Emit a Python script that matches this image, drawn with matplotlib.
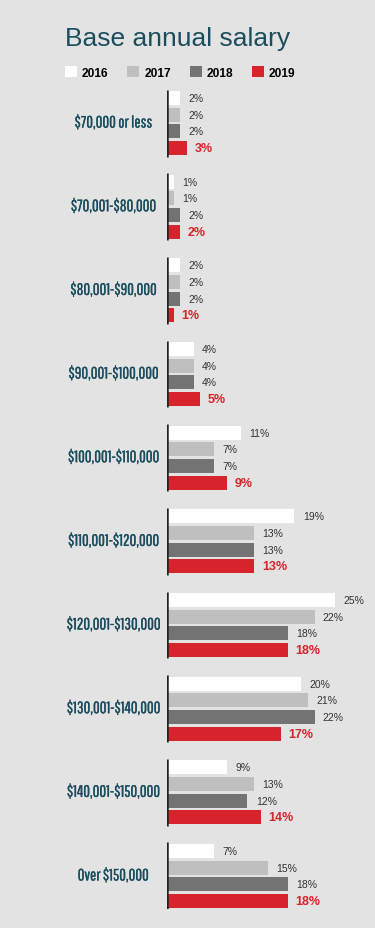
import matplotlib.pyplot as plt
import matplotlib.patheffects as pe
from matplotlib.patches import Patch
import numpy as np

plt.rcParams['text.parse_math'] = False

categories = ['$70,000 or less', '$70,001-$80,000', '$80,001-$90,000', '$90,001-$100,000',
              '$100,001-$110,000', '$110,001-$120,000', '$120,001-$130,000',
              '$130,001-$140,000', '$140,001-$150,000', 'Over $150,000']
years = ['2016', '2017', '2018', '2019']
v2016 = [2, 1, 2, 4, 11, 19, 25, 20, 9, 7]
v2017 = [2, 1, 2, 4, 7, 13, 22, 21, 13, 15]
v2018 = [2, 2, 2, 4, 7, 13, 18, 22, 12, 18]
v2019 = [3, 2, 1, 5, 9, 13, 18, 17, 14, 18]

series = [v2016, v2017, v2018, v2019]
colors = ['#ffffff', '#bfbfbf', '#737373', '#d7232b']
bg = '#e3e3e3'
teal = '#1b4d5e'
sans = ['Liberation Sans', 'DejaVu Sans']
narrow = ['Pathway Gothic One', 'Oswald', 'DejaVu Sans']

fig = plt.figure(figsize=(3.75, 9.29), dpi=100)
fig.patch.set_facecolor(bg)

ax = fig.add_axes([0.445, 0.020, 0.555, 0.8825])
ax.set_facecolor(bg)

for j, vals in enumerate(series):
    ys = np.arange(len(categories)) * 5 + j
    ax.barh(ys, vals, height=0.84, color=colors[j], edgecolor='none')
    for y, v in zip(ys, vals):
        if j == 3:
            ax.annotate(f'{v}%', (v, y), xytext=(5.5, 0), textcoords='offset points',
                        va='center', ha='left', fontsize=9, fontweight='bold',
                        color='#d7232b', family=sans)
        else:
            ax.annotate(f'{v}%', (v, y), xytext=(6, 0), textcoords='offset points',
                        va='center', ha='left', fontsize=7.5, color='#333333',
                        family=sans)

# thicken the narrow label font just a touch
bold_fx = [pe.withStroke(linewidth=0.2, foreground=teal)]
for g, cat in enumerate(categories):
    ax.vlines(0, g * 5 - 0.5, g * 5 + 3.5, color='#222222', lw=1.8)
    ax.text(-54 / 6.7, g * 5 + 1.5, cat, ha='center', va='center', fontsize=11.8,
            color=teal, family=narrow, path_effects=bold_fx)

ax.set_xlim(0, 31.0)
ax.set_ylim(48.5, -0.5)
ax.axis('off')

fig.text(0.173, 0.951, 'Base annual salary', fontsize=19, color=teal,
         family=sans, va='baseline', ha='left')

handles = [Patch(facecolor=c, edgecolor='none') for c in colors]
leg = fig.legend(handles, years, loc='upper left', bbox_to_anchor=(0.145, 0.939), ncol=4,
                 frameon=False, handlelength=1.0, handleheight=1.0, handletextpad=0.4,
                 columnspacing=1.6, prop={'family': sans, 'weight': 'bold', 'size': 8.6})

fig.savefig('out.png', dpi=100, facecolor=bg)
